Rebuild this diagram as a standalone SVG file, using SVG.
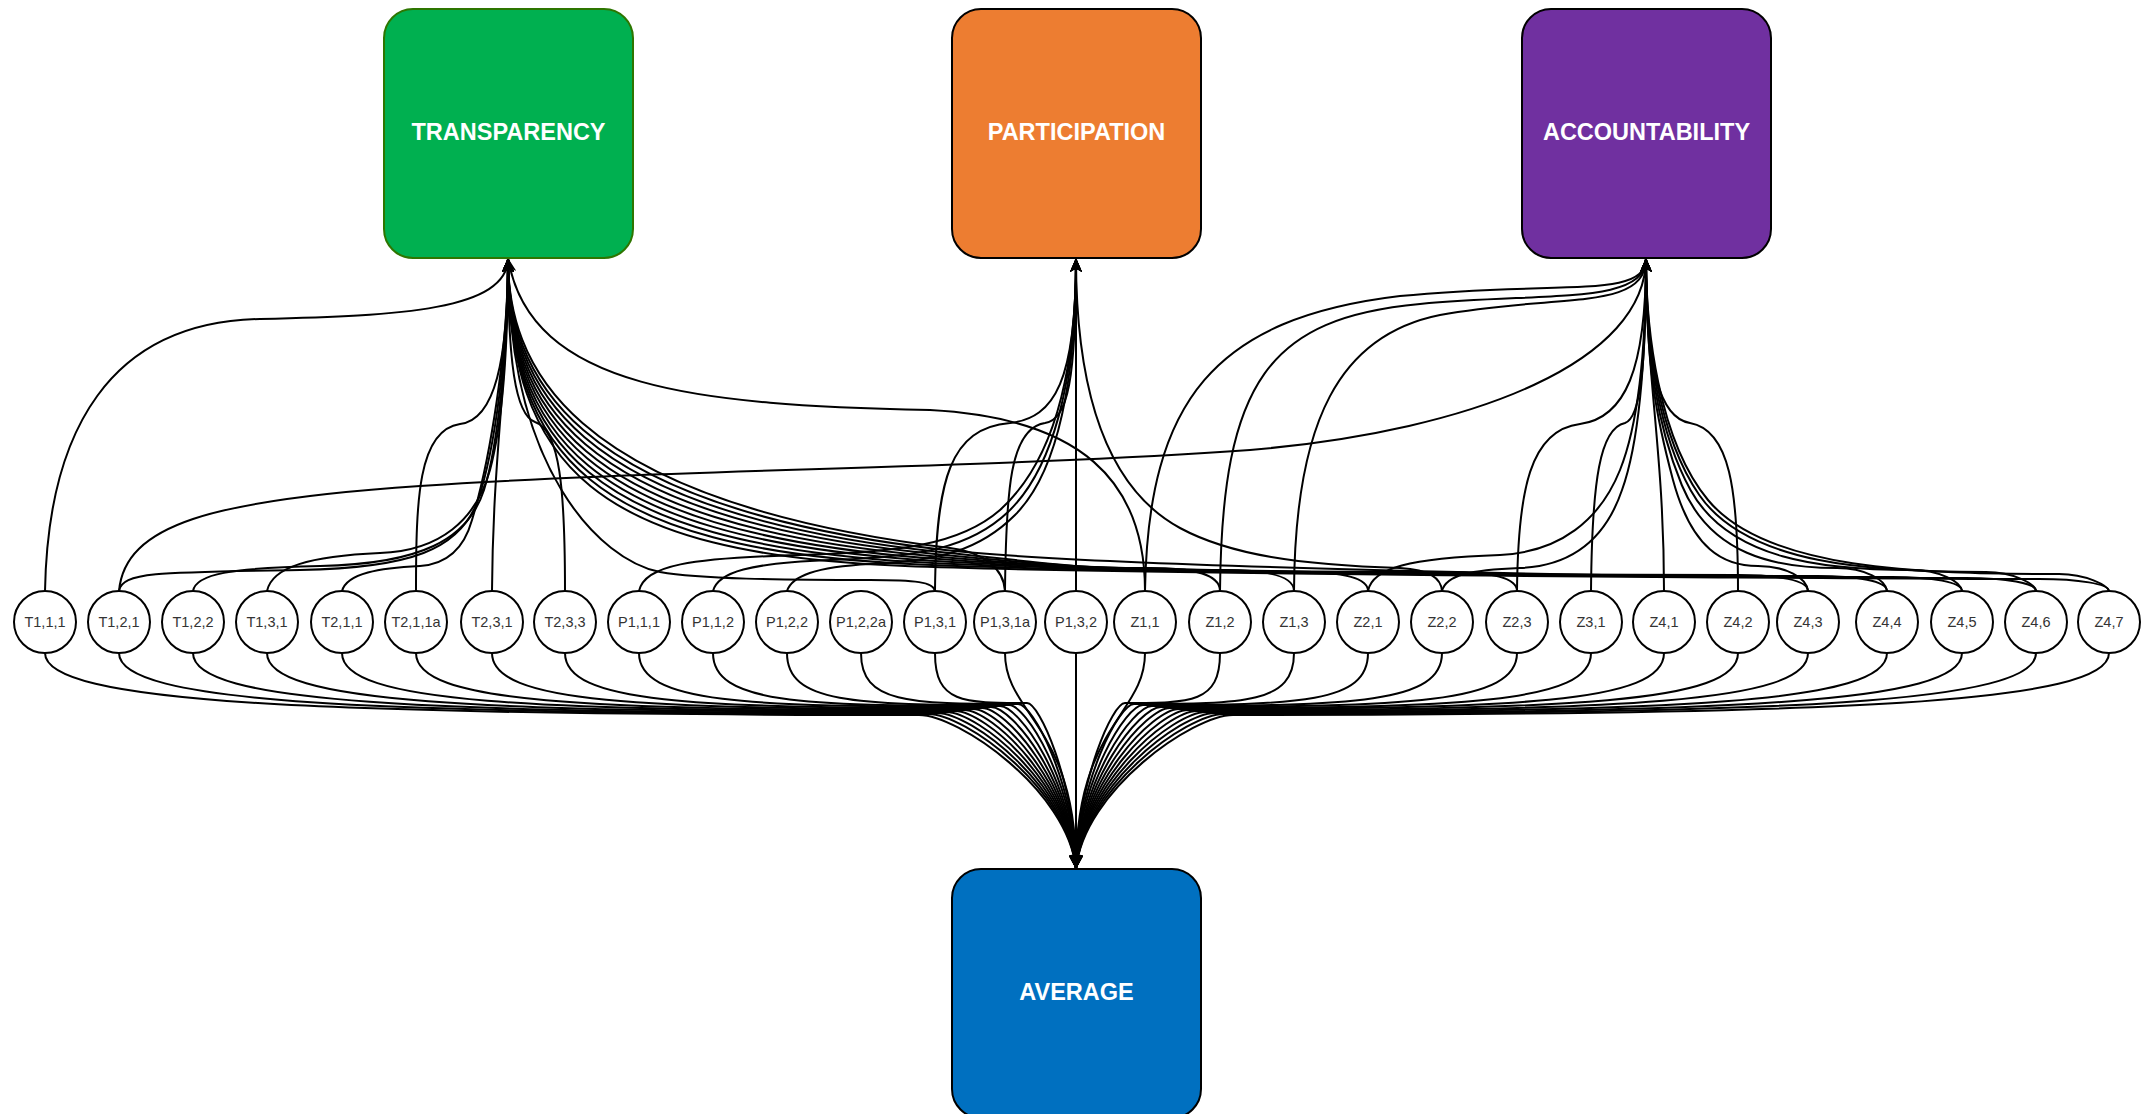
<svg xmlns="http://www.w3.org/2000/svg" width="2141" height="1114" viewBox="0 0 2141 1114">
<style>
.e{fill:none;stroke:#000;stroke-width:2;marker-end:url(#arr)}
.n circle{fill:#fff;stroke:#000;stroke-width:2}
.n text{font-family:"Liberation Sans",Arial,sans-serif;font-size:14.5px;fill:#333;text-anchor:middle}
.b text{font-family:"Liberation Sans",Arial,sans-serif;font-size:23.5px;font-weight:bold;fill:#fff;text-anchor:middle}
.b rect{stroke-width:2}
</style>
<defs>
<marker id="arr" markerUnits="userSpaceOnUse" viewBox="0 0 14 12" markerWidth="14" markerHeight="12" refX="14" refY="6" orient="auto">
<path d="M0,0 L14,6 L0,12 L3.5,6 Z" fill="#000"/>
</marker>
</defs>
<rect width="2141" height="1114" fill="#fff"/>
<g id="connectors">
<!-- to AVERAGE -->
<path class="e" d="M45,653 C45,703 307.2,715 919,715 C958,715 1068,790 1076,869"/>
<path class="e" d="M119,653 C119,703 361.7,714 928,714 C965,714 1068.6,789 1076,869"/>
<path class="e" d="M193,653 C193,703 416.2,713 937,713 C971.75,713 1069,788 1076,869"/>
<path class="e" d="M267,653 C267,703 470.7,712 946,712 C978.5,712 1069.5,787 1076,869"/>
<path class="e" d="M342,653 C342,703 525.9,711 955,711 C985.25,711 1070,786 1076,869"/>
<path class="e" d="M416,653 C416,703 580.4,710 964,710 C992,710 1070.4,785 1076,869"/>
<path class="e" d="M492,653 C492,703 636.3,709 973,709 C998.75,709 1070.9,784 1076,869"/>
<path class="e" d="M565,653 C565,703 690.1,708 982,708 C1005.5,708 1071.3,783 1076,869"/>
<path class="e" d="M639,653 C639,703 744.6,707 991,707 C1012.25,707 1071.75,782 1076,869"/>
<path class="e" d="M713,653 C713,703 799.1,706 1000,706 C1019,706 1072.2,781 1076,869"/>
<path class="e" d="M787,653 C787,703 853.6,705 1009,705 C1025.75,705 1072.65,780 1076,869"/>
<path class="e" d="M861,653 C861,703 908.1,704 1018,704 C1032.5,704 1073.1,779 1076,869"/>
<path class="e" d="M935,653 C935,703 962.6,703 1027,703 C1039.25,703 1073.55,778 1076,869"/>
<path class="e" d="M1005,653 C1005,715 1076,725 1076,869"/>
<path class="e" d="M1076,653 L1076,869"/>
<path class="e" d="M1145,653 C1145,715 1076,725 1076,869"/>
<path class="e" d="M1220,653 C1220,703 1191.5,703 1125,703 C1112.75,703 1078.45,778 1076,869"/>
<path class="e" d="M1294,653 C1294,703 1246,704 1134,704 C1119.5,704 1078.9,779 1076,869"/>
<path class="e" d="M1368,653 C1368,703 1300.5,705 1143,705 C1126.25,705 1079.35,780 1076,869"/>
<path class="e" d="M1442,653 C1442,703 1355,706 1152,706 C1133,706 1079.8,781 1076,869"/>
<path class="e" d="M1517,653 C1517,703 1410.2,707 1161,707 C1139.75,707 1080.25,782 1076,869"/>
<path class="e" d="M1591,653 C1591,703 1464.7,708 1170,708 C1146.5,708 1080.7,783 1076,869"/>
<path class="e" d="M1664,653 C1664,703 1518.5,709 1179,709 C1153.25,709 1081.15,784 1076,869"/>
<path class="e" d="M1738,653 C1738,703 1573,710 1188,710 C1160,710 1081.6,785 1076,869"/>
<path class="e" d="M1808,653 C1808,703 1624.7,711 1197,711 C1166.75,711 1082.05,786 1076,869"/>
<path class="e" d="M1887,653 C1887,703 1682.7,712 1206,712 C1173.5,712 1082.5,787 1076,869"/>
<path class="e" d="M1962,653 C1962,703 1737.9,713 1215,713 C1180.25,713 1082.95,788 1076,869"/>
<path class="e" d="M2036,653 C2036,703 1792.4,714 1224,714 C1187,714 1083.4,789 1076,869"/>
<path class="e" d="M2109,653 C2109,703 1846.2,715 1233,715 C1193.75,715 1083.85,790 1076,869"/>
<!-- to TRANSPARENCY -->
<path class="e" d="M45,591 C48,430 110,322 260,319 C400,316 508,310 508,258"/>
<path class="e" d="M119,591 C122,572 160,572 300,570 C410,568 460,550 478,500 C495,450 508,350 508,258"/>
<path class="e" d="M193,591 C196,574 230,568 320,566 C420,564 468,540 484,490 C498,445 508,350 508,258"/>
<path class="e" d="M267,591 C272,567 310,556 380,553 C440,551 476,520 490,470 C502,425 508,350 508,258"/>
<path class="e" d="M342,591 C347,573 380,568 420,566 C450,564 465,545 472,520 C490,460 508,350 508,258"/>
<path class="e" d="M416,591 C416,500 418,430 460,424 C495,420 508,360 508,258"/>
<path class="e" d="M492,591 C493,450 508,380 508,258"/>
<path class="e" d="M565,591 C565,490 560,430 535,422 C515,415 508,360 508,258"/>
<path class="e" d="M935,591 C934,582 915,580 870,580 C780,580 700,579 660,572 C600,560 508,470 508,258"/>
<path class="e" d="M1005,591 C1004,570 985,552 950,548 C560,500 508,360 508,258"/>
<path class="e" d="M1145,591 C1145,480 1080,418 930,410 C700,405 530,390 508,258"/>
<path class="e" d="M1220,591 C1220,573 1190,568 1150,568 C1080,568 1090,568 940,552 C568,512 508,384 508,258"/>
<path class="e" d="M1294,591 C1294,575 1264,570 1224,570 C1128,570 1085,569 935,554 C572,518 508,396 508,258"/>
<path class="e" d="M1368,591 C1368,577 1338,572 1298,572 C1175,572 1080,569.5 930,556 C576,524 508,408 508,258"/>
<path class="e" d="M1517,591 C1517,577 1487,572 1447,572 C1273,572 1075,570 925,558 C580,530 508,420 508,258"/>
<path class="e" d="M1808,591 C1808,580 1778,575 1738,575 C1465,575 1070,570.6 920,560 C584,536 508,432 508,258"/>
<path class="e" d="M1887,591 C1887,581 1857,576 1817,576 C1516,576 1065,571 915,562 C588,542 508,444 508,258"/>
<path class="e" d="M1962,591 C1962,582 1932,577 1892,577 C1565,577 1060,571.5 910,564 C592,548 508,456 508,258"/>
<path class="e" d="M2036,591 C2036,583 2006,578 1966,578 C1612,578 1055,572 905,566 C596,554 508,468 508,258"/>
<path class="e" d="M2109,591 C2109,584 2079,579 2039,579 C1674,579 1095,567 945,550 C564,506 508,372 508,258"/>
<!-- to PARTICIPATION -->
<path class="e" d="M639,591 C645,565 690,558 800,555 C900,552 960,545 1000,510 C1050,465 1076,380 1076,258"/>
<path class="e" d="M713,591 C718,572 750,563 830,560 C920,557 970,548 1008,512 C1052,470 1076,385 1076,258"/>
<path class="e" d="M787,591 C792,576 815,567 870,564 C940,561 980,550 1015,515 C1055,475 1076,390 1076,258"/>
<path class="e" d="M935,591 C936,480 950,428 1010,423 C1055,418 1076,380 1076,258"/>
<path class="e" d="M1005,591 C1006,490 1010,428 1045,423 C1068,419 1076,380 1076,258"/>
<path class="e" d="M1076,591 L1076,258"/>
<path class="e" d="M1442,591 C1441,578 1430,570 1400,568 C1300,565 1230,555 1180,528 C1110,490 1076,400 1076,258"/>
<!-- to ACCOUNTABILITY -->
<path class="e" d="M119,591 C125,525 210,500 420,486 C650,470 1000,468 1250,450 C1480,430 1646,360 1646,258"/>
<path class="e" d="M1145,591 C1148,400 1215,318 1400,296 C1560,280 1646,300 1646,258"/>
<path class="e" d="M1220,591 C1222,380 1270,318 1420,304 C1550,292 1646,305 1646,258"/>
<path class="e" d="M1294,591 C1295,420 1340,335 1440,315 C1560,293 1646,312 1646,258"/>
<path class="e" d="M1368,591 C1372,568 1410,558 1500,555 C1560,552 1600,520 1620,470 C1640,420 1646,340 1646,258"/>
<path class="e" d="M1442,591 C1446,575 1470,570 1520,568 C1570,566 1605,540 1622,490 C1640,440 1646,350 1646,258"/>
<path class="e" d="M1517,591 C1518,490 1530,430 1580,424 C1625,418 1646,370 1646,258"/>
<path class="e" d="M1591,591 C1592,480 1600,428 1625,423 C1640,418 1646,370 1646,258"/>
<path class="e" d="M1664,591 C1664,450 1646,380 1646,258"/>
<path class="e" d="M1738,591 C1738,490 1730,430 1690,423 C1660,418 1646,370 1646,258"/>
<path class="e" d="M1808,591 C1807,578 1786,566 1758,566 C1724,566 1692,550 1673,480 C1657,420 1646,368 1646,258"/>
<path class="e" d="M1887,591 C1886,580 1865,568 1837,568 C1775,568 1710.5,555 1681.75,485 C1657.2,425 1646,358 1646,258"/>
<path class="e" d="M1962,591 C1961,582 1940,570 1912,570 C1823.4,570 1729,560 1690.5,490 C1657.5,430 1646,348 1646,258"/>
<path class="e" d="M2036,591 C2035,584 2014,572 1986,572 C1871.3,572 1747.6,565 1699.25,495 C1657.85,435 1646,338 1646,258"/>
<path class="e" d="M2109,591 C2108,586 2087,574 2059,574 C1918.6,574 1766.1,570 1708,500 C1658.2,440 1646,328 1646,258"/>
</g>
<g id="transparency" class="b"><rect x="384" y="9" width="249" height="249" rx="29" fill="#00B050" stroke="#2D7600"/><text x="508.5" y="139.5">TRANSPARENCY</text></g>
<g id="participation" class="b"><rect x="952" y="9" width="249" height="249" rx="29" fill="#ED7D31" stroke="#000"/><text x="1076.5" y="139.5">PARTICIPATION</text></g>
<g id="accountability" class="b"><rect x="1522" y="9" width="249" height="249" rx="29" fill="#7030A0" stroke="#000"/><text x="1646.5" y="139.5">ACCOUNTABILITY</text></g>
<g id="average" class="b"><rect x="952" y="869" width="249" height="249" rx="29" fill="#0070C0" stroke="#000"/><text x="1076.5" y="999.5">AVERAGE</text></g>
<g id="n-T111" class="n"><circle cx="45" cy="622" r="31"/><text x="45" y="627">T1,1,1</text></g>
<g id="n-T121" class="n"><circle cx="119" cy="622" r="31"/><text x="119" y="627">T1,2,1</text></g>
<g id="n-T122" class="n"><circle cx="193" cy="622" r="31"/><text x="193" y="627">T1,2,2</text></g>
<g id="n-T131" class="n"><circle cx="267" cy="622" r="31"/><text x="267" y="627">T1,3,1</text></g>
<g id="n-T211" class="n"><circle cx="342" cy="622" r="31"/><text x="342" y="627">T2,1,1</text></g>
<g id="n-T211a" class="n"><circle cx="416" cy="622" r="31"/><text x="416" y="627">T2,1,1a</text></g>
<g id="n-T231" class="n"><circle cx="492" cy="622" r="31"/><text x="492" y="627">T2,3,1</text></g>
<g id="n-T233" class="n"><circle cx="565" cy="622" r="31"/><text x="565" y="627">T2,3,3</text></g>
<g id="n-P111" class="n"><circle cx="639" cy="622" r="31"/><text x="639" y="627">P1,1,1</text></g>
<g id="n-P112" class="n"><circle cx="713" cy="622" r="31"/><text x="713" y="627">P1,1,2</text></g>
<g id="n-P122" class="n"><circle cx="787" cy="622" r="31"/><text x="787" y="627">P1,2,2</text></g>
<g id="n-P122a" class="n"><circle cx="861" cy="622" r="31"/><text x="861" y="627">P1,2,2a</text></g>
<g id="n-P131" class="n"><circle cx="935" cy="622" r="31"/><text x="935" y="627">P1,3,1</text></g>
<g id="n-P131a" class="n"><circle cx="1005" cy="622" r="31"/><text x="1005" y="627">P1,3,1a</text></g>
<g id="n-P132" class="n"><circle cx="1076" cy="622" r="31"/><text x="1076" y="627">P1,3,2</text></g>
<g id="n-Z11" class="n"><circle cx="1145" cy="622" r="31"/><text x="1145" y="627">Z1,1</text></g>
<g id="n-Z12" class="n"><circle cx="1220" cy="622" r="31"/><text x="1220" y="627">Z1,2</text></g>
<g id="n-Z13" class="n"><circle cx="1294" cy="622" r="31"/><text x="1294" y="627">Z1,3</text></g>
<g id="n-Z21" class="n"><circle cx="1368" cy="622" r="31"/><text x="1368" y="627">Z2,1</text></g>
<g id="n-Z22" class="n"><circle cx="1442" cy="622" r="31"/><text x="1442" y="627">Z2,2</text></g>
<g id="n-Z23" class="n"><circle cx="1517" cy="622" r="31"/><text x="1517" y="627">Z2,3</text></g>
<g id="n-Z31" class="n"><circle cx="1591" cy="622" r="31"/><text x="1591" y="627">Z3,1</text></g>
<g id="n-Z41" class="n"><circle cx="1664" cy="622" r="31"/><text x="1664" y="627">Z4,1</text></g>
<g id="n-Z42" class="n"><circle cx="1738" cy="622" r="31"/><text x="1738" y="627">Z4,2</text></g>
<g id="n-Z43" class="n"><circle cx="1808" cy="622" r="31"/><text x="1808" y="627">Z4,3</text></g>
<g id="n-Z44" class="n"><circle cx="1887" cy="622" r="31"/><text x="1887" y="627">Z4,4</text></g>
<g id="n-Z45" class="n"><circle cx="1962" cy="622" r="31"/><text x="1962" y="627">Z4,5</text></g>
<g id="n-Z46" class="n"><circle cx="2036" cy="622" r="31"/><text x="2036" y="627">Z4,6</text></g>
<g id="n-Z47" class="n"><circle cx="2109" cy="622" r="31"/><text x="2109" y="627">Z4,7</text></g>
</svg>
